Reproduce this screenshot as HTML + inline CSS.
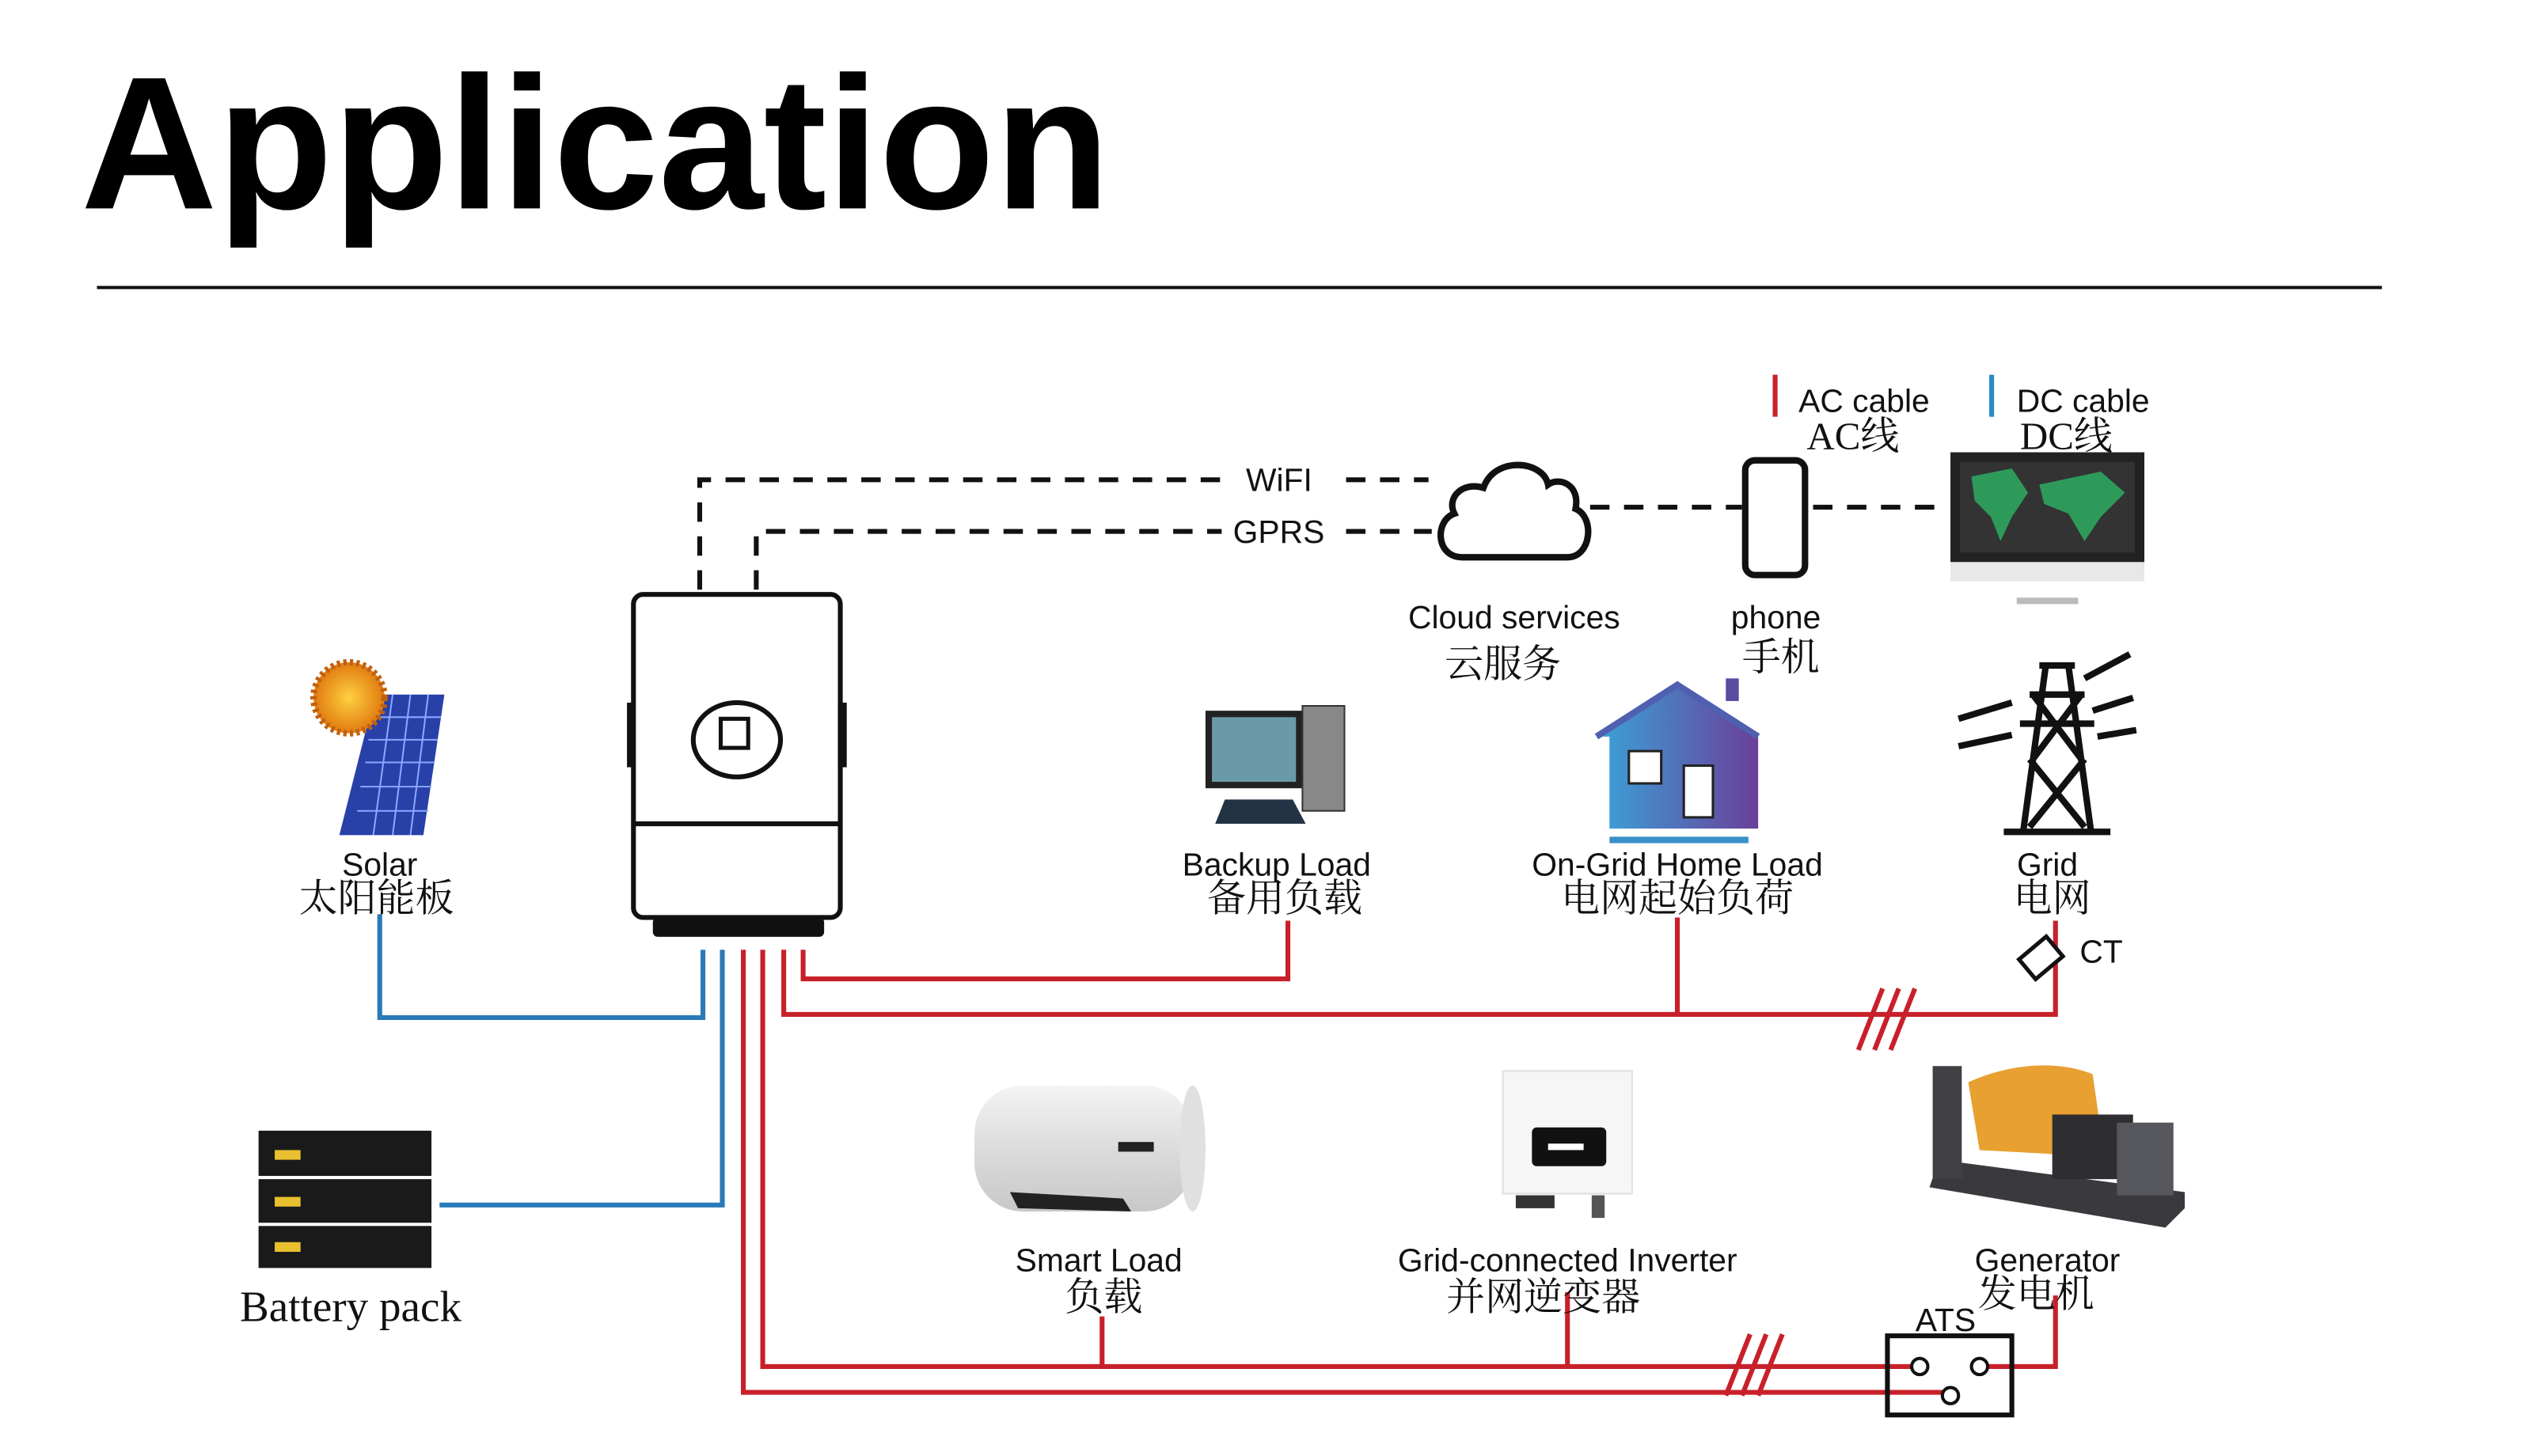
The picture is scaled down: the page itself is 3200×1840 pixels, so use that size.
<!DOCTYPE html>
<html><head><meta charset="utf-8"><style>
html,body{margin:0;padding:0;background:#fff;}
svg{display:block;}
.t{font-family:"Liberation Sans","Noto Sans CJK SC",sans-serif;fill:#111;}
.c{font-family:"Liberation Serif","Noto Serif CJK SC",serif;fill:#111;}
</style></head><body>
<svg width="3200" height="1840" viewBox="0 0 1567.5 901.4" preserveAspectRatio="none" xmlns="http://www.w3.org/2000/svg">
<defs>
<linearGradient id="hg" x1="0" x2="1" y1="0" y2="0"><stop offset="0" stop-color="#3aa3d8"/><stop offset="1" stop-color="#6a3f9a"/></linearGradient>
<linearGradient id="wh" x1="0" x2="0" y1="0" y2="1"><stop offset="0" stop-color="#f4f4f4"/><stop offset=".5" stop-color="#dcdcdc"/><stop offset="1" stop-color="#c8c8c8"/></linearGradient>
<radialGradient id="sun"><stop offset="0" stop-color="#ffd040"/><stop offset="1" stop-color="#e07a10"/></radialGradient>
</defs>
<text x="50" y="129" class="t" style="font-weight:bold;font-size:117px;fill:#000">Application</text>
<rect x="60" y="177" width="1414" height="2" fill="#111"/>

<g stroke="#111" stroke-width="3" fill="none" stroke-dasharray="12,9">
<path d="M433 365 V297 H760"/><path d="M833 297 H884"/>
<path d="M468 365 V329 H756"/><path d="M833 329 H886"/>
<path d="M984 314 H1078"/><path d="M1122 314 H1205"/>
</g>
<text x="771" y="304" class="t" font-size="20">WiFI</text>
<text x="763" y="336" class="t" font-size="20">GPRS</text>

<path d="M905 345 H970 C985 345 987 320 975 315 C978 300 965 295 958 300 C955 285 925 282 918 302 C905 298 895 308 900 318 C888 322 888 345 905 345 Z" fill="none" stroke="#111" stroke-width="4"/>
<rect x="1080" y="285" width="37" height="71" rx="6" fill="#fff" stroke="#111" stroke-width="4"/>
<rect x="1207" y="280" width="120" height="68" fill="#222"/>
<rect x="1213" y="286" width="108" height="56" fill="#333"/>
<path d="M1220 295 L1245 290 L1255 305 L1245 320 L1238 335 L1232 320 L1222 310Z M1262 300 L1300 292 L1315 305 L1300 320 L1290 335 L1280 318 L1265 312Z" fill="#2e9a5a"/>
<rect x="1207" y="348" width="120" height="12" fill="#e8e8e8"/>
<rect x="1248" y="370" width="38" height="4" fill="#bbb"/>

<rect x="1097" y="232" width="3" height="26" fill="#c8202a"/>
<text x="1113" y="255" class="t" font-size="20">AC cable</text>
<text x="1118" y="278" class="c" font-size="24">AC线</text>
<rect x="1231" y="232" width="3" height="26" fill="#2a8ac0"/>
<text x="1248" y="255" class="t" font-size="20">DC cable</text>
<text x="1250" y="278" class="c" font-size="24">DC线</text>

<text x="937" y="389" class="t" font-size="20" text-anchor="middle">Cloud services</text>
<text x="930" y="419" class="c" font-size="24" text-anchor="middle">云服务</text>
<text x="1099" y="389" class="t" font-size="20" text-anchor="middle">phone</text>
<text x="1102" y="415" class="c" font-size="24" text-anchor="middle">手机</text>

<g fill="none" stroke-width="3">
<path d="M235 566 V630 H435 V588" stroke="#2a7ab8"/>
<path d="M272 746 H447 V588" stroke="#2a7ab8"/>
<path d="M460 588 V862 H1207" stroke="#c8202a"/>
<path d="M472 588 V846 H1188" stroke="#c8202a"/>
<path d="M682 846 V815 M970 846 V800" stroke="#c8202a"/>
<path d="M485 588 V628 H1272 V570" stroke="#c8202a"/>
<path d="M1038 628 V568" stroke="#c8202a"/>
<path d="M497 588 V606 H797 V570" stroke="#c8202a"/>
<path d="M1225 846 H1272 V802" stroke="#c8202a"/>
<path d="M1150 650 L1165 612 M1160 650 L1175 612 M1170 650 L1185 612" stroke="#c8202a"/>
<path d="M1068 864 L1083 826 M1078 864 L1093 826 M1088 864 L1103 826" stroke="#c8202a"/>
</g>
<rect x="1168" y="827" width="77" height="49" fill="none" stroke="#111" stroke-width="3"/>
<circle cx="1188" cy="846" r="5" fill="#fff" stroke="#111" stroke-width="2"/>
<circle cx="1225" cy="846" r="5" fill="#fff" stroke="#111" stroke-width="2"/>
<circle cx="1207" cy="864" r="5" fill="#fff" stroke="#111" stroke-width="2"/>
<text x="1204" y="824" class="t" font-size="20" text-anchor="middle">ATS</text>
<rect x="1252" y="585" width="22" height="16" fill="#fff" stroke="#111" stroke-width="2.5" transform="rotate(-40 1263 593)"/>
<text x="1287" y="596" class="t" font-size="20">CT</text>

<rect x="392" y="368" width="128" height="200" rx="6" fill="#fff" stroke="#111" stroke-width="3"/>
<line x1="392" y1="510" x2="520" y2="510" stroke="#111" stroke-width="3"/>
<rect x="388" y="435" width="5" height="40" fill="#111"/><rect x="519" y="435" width="5" height="40" fill="#111"/>
<ellipse cx="456" cy="458" rx="27" ry="23" fill="#fff" stroke="#111" stroke-width="3"/>
<rect x="446" y="445" width="17" height="18" fill="none" stroke="#111" stroke-width="2.5"/>
<rect x="404" y="568" width="106" height="12" rx="3" fill="#111"/>

<path d="M232 430 L275 430 L262 517 L210 517 Z" fill="#2840a8"/>
<g stroke="#8aa8ff" stroke-width="1"><path d="M230 444 H273 M228 458 H271 M226 472 H269 M223 487 H267 M221 502 H265 M243 430 L231 517 M254 430 L243 517 M265 430 L254 517"/></g>
<circle cx="216" cy="432" r="22" fill="url(#sun)" stroke="#c06010" stroke-width="4" stroke-dasharray="2,2"/>
<text x="235" y="542" class="t" font-size="20" text-anchor="middle">Solar</text>
<text x="233" y="564" class="c" font-size="24" text-anchor="middle">太阳能板</text>

<rect x="746" y="440" width="60" height="48" fill="#222"/><rect x="750" y="444" width="52" height="40" fill="#6a9aa8"/>
<rect x="806" y="437" width="26" height="65" fill="#888" stroke="#333"/>
<path d="M758 495 H800 L808 510 H752 Z" fill="#234"/>
<text x="790" y="542" class="t" font-size="20" text-anchor="middle">Backup Load</text>
<text x="795" y="564" class="c" font-size="24" text-anchor="middle">备用负载</text>

<path d="M988 456 L1038 424 L1088 456 V513 H996 V456 Z" fill="url(#hg)"/>
<path d="M988 456 L1038 424 L1088 456" fill="none" stroke="#5060b0" stroke-width="4"/>
<rect x="1068" y="420" width="8" height="14" fill="#5a4aa0"/>
<rect x="1008" y="465" width="20" height="20" fill="#fff" stroke="#222" stroke-width="1.5"/>
<rect x="1042" y="474" width="18" height="32" fill="#fff" stroke="#222" stroke-width="1.5"/>
<rect x="996" y="518" width="86" height="4" fill="#3a90c8"/>
<text x="1038" y="542" class="t" font-size="20" text-anchor="middle">On-Grid Home Load</text>
<text x="1038" y="564" class="c" font-size="24" text-anchor="middle">电网起始负荷</text>

<g stroke="#111" stroke-width="4" fill="none">
<path d="M1262 412 H1284 M1256 430 H1290 M1250 448 H1296 M1266 412 L1252 515 M1280 412 L1294 515 M1240 515 H1306 M1258 430 L1288 470 M1288 430 L1258 470 M1256 470 L1290 512 M1290 470 L1256 512"/>
<path d="M1212 445 L1245 435 M1212 462 L1245 455 M1290 420 L1318 405 M1295 440 L1320 432 M1298 456 L1322 452"/>
</g>
<text x="1267" y="542" class="t" font-size="20" text-anchor="middle">Grid</text>
<text x="1270" y="564" class="c" font-size="24" text-anchor="middle">电网</text>

<rect x="160" y="700" width="107" height="28" fill="#1a1a1a"/>
<rect x="160" y="730" width="107" height="27" fill="#1a1a1a"/>
<rect x="160" y="759" width="107" height="26" fill="#1a1a1a"/>
<rect x="170" y="712" width="16" height="6" fill="#e8c030"/><rect x="170" y="741" width="16" height="6" fill="#e8c030"/><rect x="170" y="769" width="16" height="6" fill="#e8c030"/>
<text x="217" y="818" class="c" font-size="27" text-anchor="middle">Battery pack</text>

<rect x="603" y="672" width="135" height="78" rx="30" fill="url(#wh)"/>
<ellipse cx="738" cy="711" rx="8" ry="39" fill="#e0e0e0"/>
<rect x="692" y="707" width="22" height="6" fill="#222"/>
<path d="M625 738 L695 742 L700 750 L630 748Z" fill="#222"/>
<text x="680" y="787" class="t" font-size="20" text-anchor="middle">Smart Load</text>
<text x="683" y="811" class="c" font-size="24" text-anchor="middle">负载</text>

<rect x="930" y="663" width="80" height="76" fill="#f6f6f6" stroke="#e0e0e0"/>
<rect x="948" y="698" width="46" height="24" rx="3" fill="#111"/><rect x="958" y="708" width="22" height="4" fill="#fff"/>
<rect x="938" y="740" width="24" height="8" fill="#333"/><rect x="985" y="740" width="8" height="14" fill="#555"/>
<text x="970" y="787" class="t" font-size="20" text-anchor="middle">Grid-connected Inverter</text>
<text x="955" y="811" class="c" font-size="24" text-anchor="middle">并网逆变器</text>

<path d="M1194 735 L1340 760 L1352 748 L1352 738 L1200 718Z" fill="#3a3a3e"/>
<rect x="1196" y="660" width="18" height="70" fill="#404045"/>
<path d="M1218 670 C1240 660 1270 655 1295 665 L1300 700 L1280 715 L1225 712 Z" fill="#e8a030"/>
<rect x="1270" y="690" width="50" height="40" fill="#2e2e32"/>
<rect x="1310" y="695" width="35" height="45" fill="#55575c"/>
<text x="1267" y="787" class="t" font-size="20" text-anchor="middle">Generator</text>
<text x="1260" y="809" class="c" font-size="24" text-anchor="middle">发电机</text>
</svg>
</body></html>
